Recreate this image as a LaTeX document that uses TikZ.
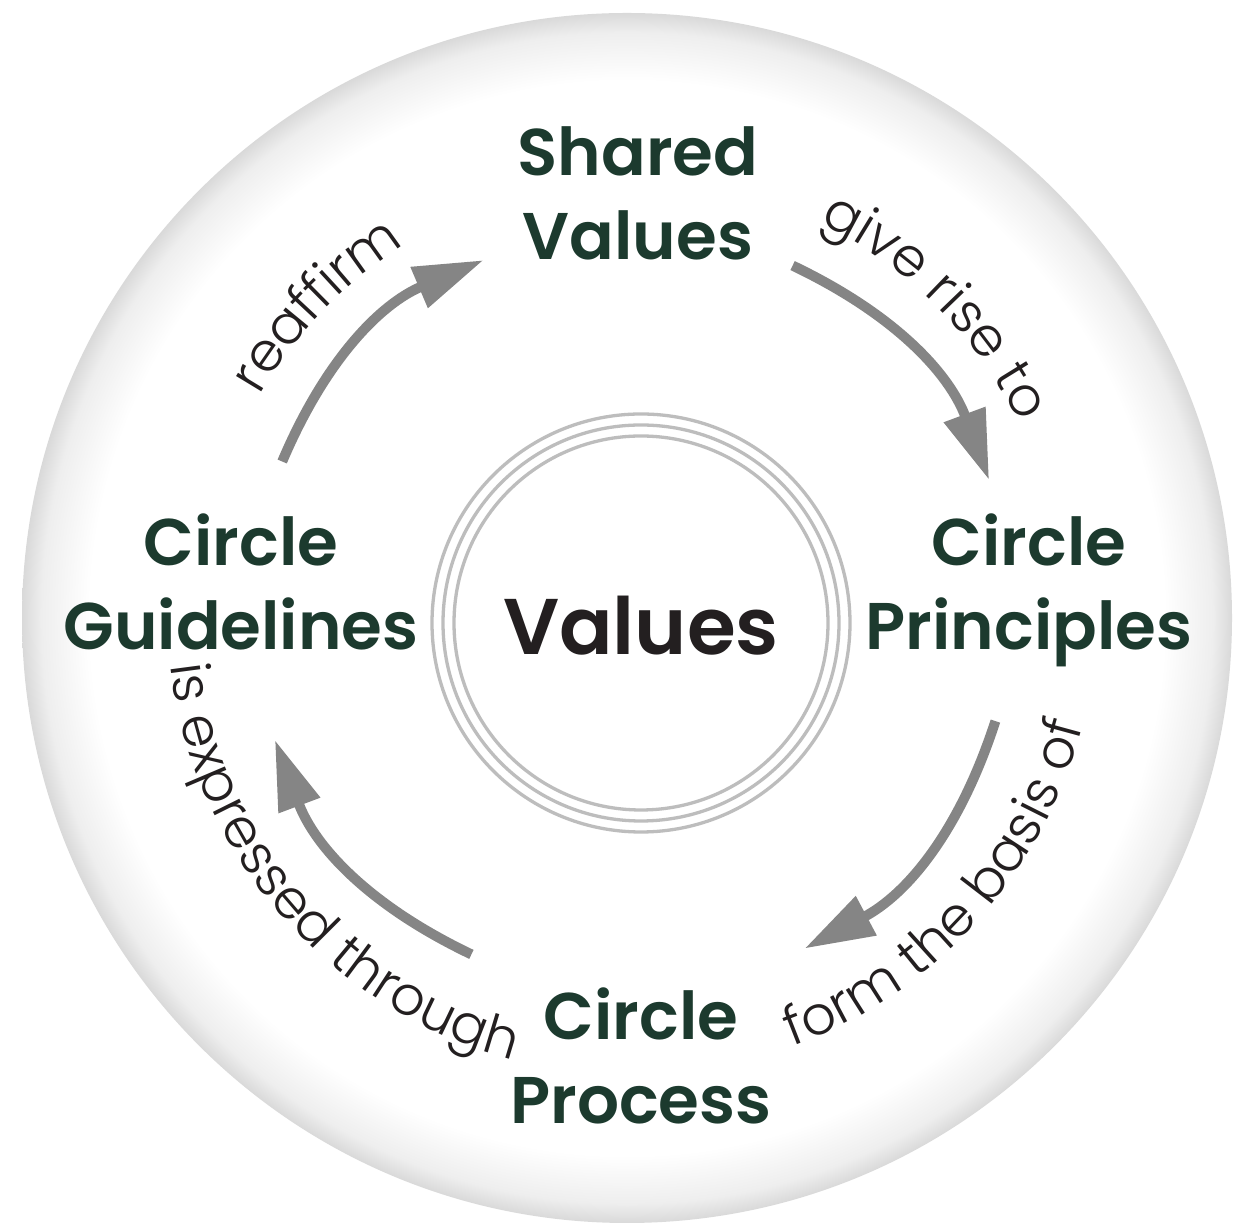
\documentclass[tikz,border=0pt]{standalone}
\usepackage{fontspec}
\setmainfont{Poppins}
\newfontfamily\headFont{Poppins SemiBold}
\newfontfamily\thinFont{Poppins Light}
\usetikzlibrary{arrows.meta, decorations.text}

\definecolor{leafGreen}{HTML}{1C3A2E}
\definecolor{inkBlack}{HTML}{231F20}
\definecolor{arrowGray}{HTML}{858585}
\definecolor{ringGray}{HTML}{BDBDBD}
\definecolor{rimLight}{HTML}{EEEEEE}
\definecolor{rimDark}{HTML}{D9D9D9}
\pgfdeclareradialshading{rimShade}{\pgfpoint{0bp}{0bp}}{color(0bp)=(white); color(22.2bp)=(white); color(24.2bp)=(rimLight); color(25bp)=(rimDark); color(50bp)=(rimDark)}

\begin{document}
\begin{tikzpicture}[x=1pt, y=1pt, node distance=430pt]
	\tikzstyle{title} = [text=leafGreen, font=\headFont\fontsize{66}{84}\selectfont, 
	align=center, text depth=0pt]
	\tikzstyle{ring} = [draw=ringGray, line width=3.3pt]
	\tikzstyle{arrow} = [draw=arrowGray, line width=10pt, ->, 
	>={Triangle[length=70pt, width=42pt]}]
	\tikzstyle{arcLabel} = [decorate, decoration={text along path, text align=center}]
	\useasboundingbox (0,0) rectangle (1245,1228);
	\coordinate (disc) at (627,610);
	\coordinate (hub) at (632,618);
	\shade [shading=rimShade] (disc) circle [radius=605pt];
	\node (values) [circle, ring, minimum size=374pt, text=inkBlack, 
	font=\headFont\fontsize{79}{79}\selectfont, text height=64pt, text depth=0pt] 
	at (641,605) {Values};
	\draw [ring] (values.center) circle [radius=198pt];
	\draw [ring] (values.center) circle [radius=209pt];
	\node (sharedValues) [title, above of=values, xshift=-3pt] {Shared\\Values};
	\node (circlePrinciples) [title, right of=values, xshift=-42pt, yshift=41pt] 
	{Circle\\Principles};
	\node (circleProcess) [title, below of=values, yshift=-3pt] {Circle\\Process};
	\node (circleGuidelines) [title, left of=values, xshift=30pt, yshift=41pt] 
	{Circle\\Guidelines};
	\coordinate (reaffirmTail) at ([shift={(157:380pt)}]hub);
	\coordinate (reaffirmHead) at ([shift={(113:380pt)}]hub);
	\coordinate (riseTail) at ([shift={(65:380pt)}]hub);
	\coordinate (riseHead) at ([shift={(20:380pt)}]hub);
	\coordinate (basisTail) at ([shift={(-17:380pt)}]hub);
	\coordinate (basisHead) at ([shift={(-63:380pt)}]hub);
	\coordinate (expressTail) at ([shift={(-115:380pt)}]hub);
	\coordinate (expressHead) at ([shift={(-160:380pt)}]hub);
	\draw [arrow] (reaffirmTail) to [bend left=22] (reaffirmHead);
	\draw [arrow] (riseTail) to [bend left=22] (riseHead);
	\draw [arrow] (basisTail) to [bend left=22] (basisHead);
	\draw [arrow] (expressTail) to [bend left=22] (expressHead);
	\path [arcLabel, decoration={text={|\color{inkBlack}\thinFont\fontsize{54}{54}\selectfont|reaffirm}}] 
	([shift={(181:430pt)}]hub) arc [start angle=181, end angle=91, radius=430pt];
	\path [arcLabel, decoration={text={|\color{inkBlack}\thinFont\fontsize{54}{54}\selectfont|give rise to}}] 
	([shift={(90:430pt)}]hub) arc [start angle=90, end angle=0, radius=430pt];
	\path [arcLabel, decoration={text={|\color{inkBlack}\thinFont\fontsize{54}{54}\selectfont|form the basis of}}] 
	([shift={(-87:465pt)}]hub) arc [start angle=-87, end angle=3, radius=465pt];
	\path [arcLabel, decoration={text={|\color{inkBlack}\thinFont\fontsize{54}{54}\selectfont|is expressed through}}] 
	([shift={(176:465pt)}]hub) arc [start angle=176, end angle=266, radius=465pt];
\end{tikzpicture}
\end{document}
